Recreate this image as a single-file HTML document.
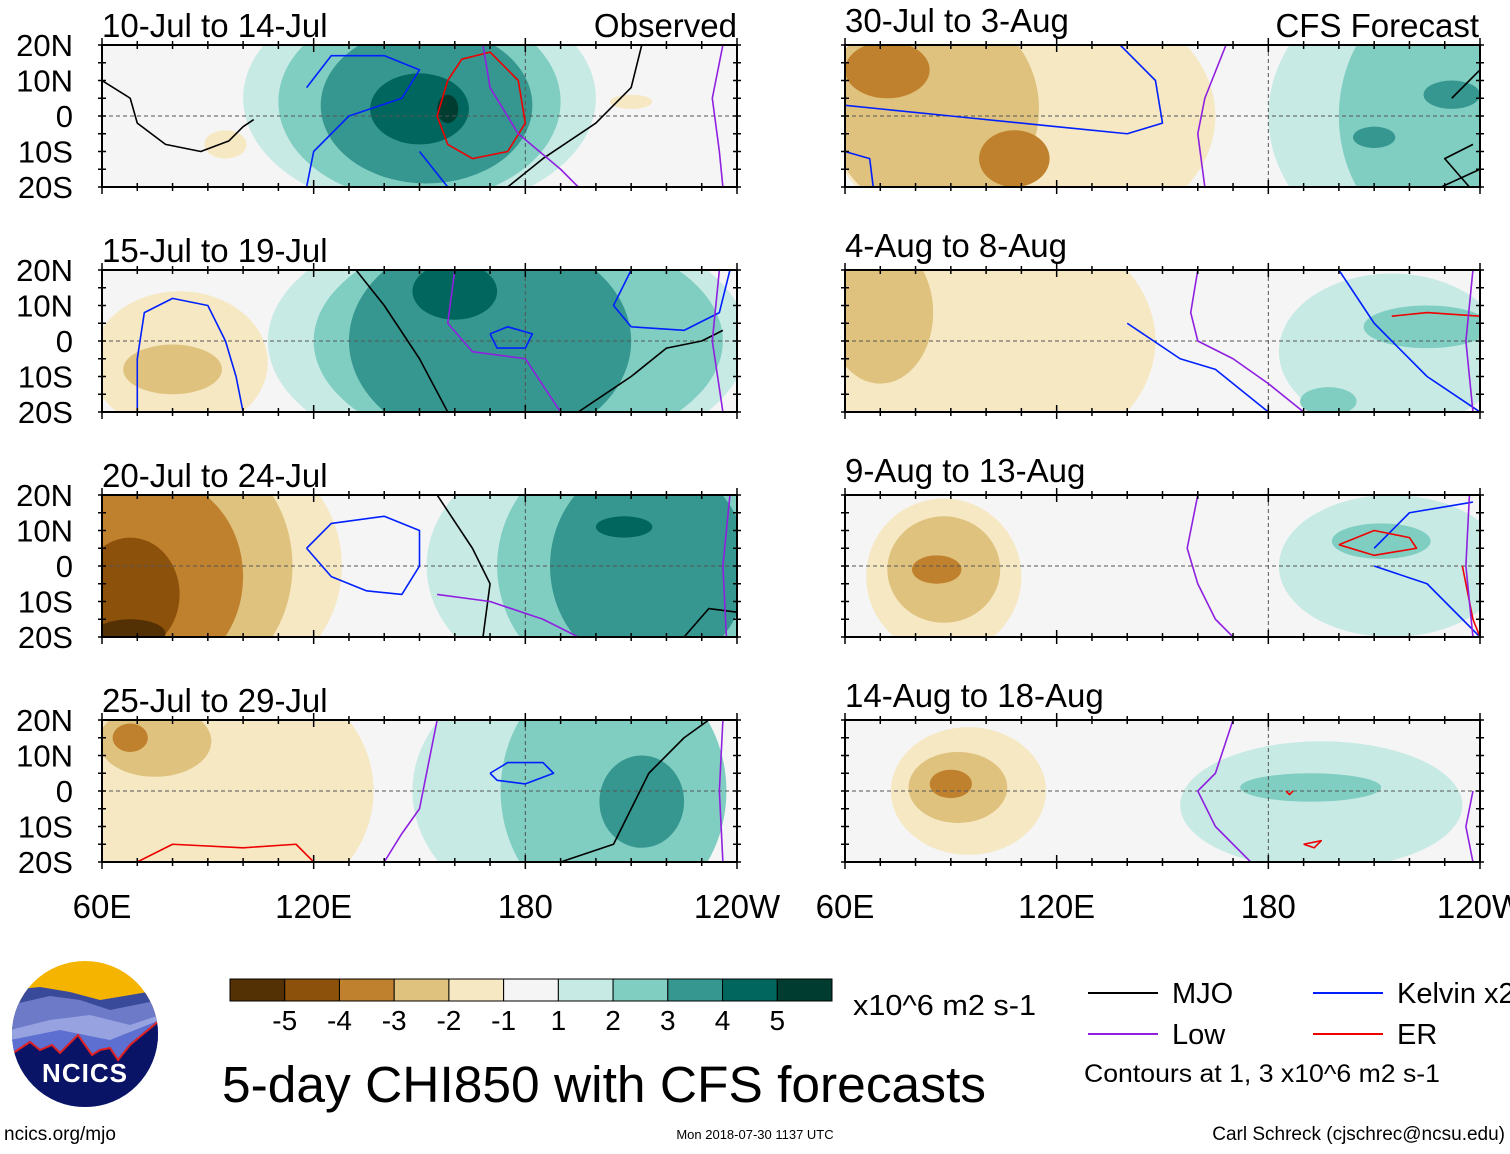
<!DOCTYPE html>
<html><head><meta charset="utf-8">
<style>
html,body{margin:0;padding:0;background:#fff;}
body{width:1510px;height:1149px;overflow:hidden;font-family:"Liberation Sans",Arial,sans-serif;}
svg text{font-family:"Liberation Sans",Arial,sans-serif;fill:#000;}
</style></head>
<body>
<svg id="chart" width="1510" height="1149" viewBox="0 0 1510 1149" xmlns="http://www.w3.org/2000/svg">
<g id="logo">
  <defs><clipPath id="logoclip"><circle cx="85" cy="1034" r="73"/></clipPath></defs>
  <g clip-path="url(#logoclip)">
    <rect x="10" y="960" width="150" height="150" fill="#f5b400"/>
    <path d="M10,990 L40,987 L70,992 L100,1000 L130,995 L160,990 L160,1110 L10,1110Z" fill="#3a4a9a"/>
    <path d="M10,1005 L50,996 L80,1000 L110,1010 L160,1000 L160,1110 L10,1110Z" fill="#6c7ac8"/>
    <path d="M10,1030 L50,1020 L90,1015 L130,1025 L160,1015 L160,1110 L10,1110Z" fill="#97a3e0"/>
    <path d="M10,1040 L60,1030 L110,1040 L160,1020 L160,1110 L10,1110Z" fill="#5d6fd0"/>
    <path d="M10,1055 L30,1042 L40,1050 L52,1045 L60,1053 L78,1035 L92,1055 L100,1050 L110,1048 L118,1060 L130,1045 L160,1020 L160,1110 L10,1110Z" fill="#0a1466" stroke="#e02020" stroke-width="2"/>
  </g>
  <text x="85" y="1082" text-anchor="middle" font-size="26" font-weight="bold" style="fill:#fff" letter-spacing="1">NCICS</text>
</g>
</svg>
<script>
const levelColors = ['#543005','#8c510a','#bf812d','#dfc27d','#f6e8c3','#f5f5f5','#c7eae5','#80cdc1','#35978f','#01665e','#003c30'];
const colorbarLabels = ['-5','-4','-3','-2','-1','1','2','3','4','5'];
const latTicks = ['20N','10N','0','10S','20S'];
const lonTicks = ['60E','120E','180','120W'];
const panelTitles = ['10-Jul to 14-Jul','15-Jul to 19-Jul','20-Jul to 24-Jul','25-Jul to 29-Jul','30-Jul to 3-Aug','4-Aug to 8-Aug','9-Aug to 13-Aug','14-Aug to 18-Aug'];
// blobs: [centerLon, centerLat, halfWidthLon, halfHeightLat, level]
const blobs0 = [[95,-8,6,4,-1],[210,4,6,2,-1],[150,5,50,32,1],[150,4,40,28,2],[152,3,30,22,3],[150,2,14,10,4],[158,2,3,4,5]];
const blobs1 = [[82,-6,25,20,-1],[80,-8,14,7,-2],[175,0,68,36,1],[178,0,58,32,2],[170,0,40,30,3],[160,14,12,8,4]];
const blobs2 = [[90,0,38,36,-1],[84,0,30,34,-2],[75,-3,25,28,-3],[68,-8,14,16,-4],[68,-19,10,4,-5],[200,0,48,36,1],[210,0,38,36,2],[215,0,28,30,3],[208,11,8,3,4]];
const blobs3 = [[95,0,42,36,-1],[75,14,16,10,-2],[68,15,5,4,-3],[192,0,44,36,1],[205,0,32,36,2],[213,-3,12,13,3]];
const blobs4 = [[110,0,55,38,-1],[85,2,30,30,-2],[72,13,12,8,-3],[108,-12,10,8,-3],[225,0,45,40,1],[230,0,30,36,2],[232,6,8,4,3],[210,-6,6,3,3]];
const blobs5 = [[100,0,48,36,-1],[70,8,15,20,-2],[215,-3,32,22,1],[225,4,18,6,2],[197,-17,8,4,2]];
const blobs6 = [[88,-3,22,22,-1],[88,-1,16,15,-2],[86,-1,7,4,-3],[215,0,32,20,1],[212,7,14,5,2]];
const blobs7 = [[95,0,22,18,-1],[92,1,14,10,-2],[90,2,6,4,-3],[195,-4,40,18,1],[192,1,20,4,2]];
const allBlobs = [blobs0,blobs1,blobs2,blobs3,blobs4,blobs5,blobs6,blobs7];
</script>
<script>
// contour lines: arrays of [lon,lat]
const contours0 = [
 ['#000',[[60,10],[68,5],[70,-2],[78,-8],[88,-10],[96,-7],[100,-3],[103,-1]]],
 ['#000',[[175,-20],[185,-12],[200,-2],[210,8],[213,20]]],
 ['#0020ff',[[118,8],[125,17],[140,17],[150,13],[145,5],[130,0],[120,-10],[118,-20]]],
 ['#0020ff',[[150,-10],[158,-20]]],
 ['#e00',[[158,10],[155,0],[158,-8],[165,-12],[175,-10],[180,-2],[178,10],[170,18],[162,16],[158,10]]],
 ['#9020e0',[[168,20],[170,8],[178,-5],[190,-15],[195,-20]]],
 ['#9020e0',[[236,20],[233,5],[235,-10],[236,-20]]]
];
const contours1 = [
 ['#000',[[132,20],[140,10],[150,-5],[158,-20]]],
 ['#000',[[195,-20],[210,-10],[220,-2],[230,0],[236,3]]],
 ['#0020ff',[[70,-20],[70,-5],[72,8],[80,12],[90,10],[95,0],[98,-10],[100,-20]]],
 ['#0020ff',[[210,20],[205,10],[210,4],[225,3],[235,8],[238,20]]],
 ['#0020ff',[[170,2],[172,-2],[180,-2],[182,2],[175,4],[170,2]]],
 ['#9020e0',[[160,20],[158,5],[165,-3],[180,-5],[190,-20]]],
 ['#9020e0',[[235,20],[233,0],[236,-20]]]
];
const contours2 = [
 ['#000',[[155,20],[165,5],[170,-5],[168,-20]]],
 ['#000',[[225,-20],[232,-12],[240,-13]]],
 ['#0020ff',[[118,5],[125,12],[140,14],[150,10],[150,0],[145,-8],[135,-7],[125,-3],[118,5]]],
 ['#9020e0',[[155,-8],[170,-10],[185,-15],[195,-20]]],
 ['#9020e0',[[238,20],[236,0],[237,-20]]]
];
const contours3 = [
 ['#0020ff',[[170,5],[175,8],[185,8],[188,5],[180,2],[172,3],[170,5]]],
 ['#000',[[190,-20],[205,-15],[210,-5],[215,5],[225,15],[232,20]]],
 ['#9020e0',[[155,20],[152,5],[150,-5],[145,-12],[140,-20]]],
 ['#9020e0',[[236,20],[235,0],[236,-20]]],
 ['#e00',[[70,-20],[80,-15],[100,-16],[115,-15],[120,-20]]]
];
const contours4 = [
 ['#0020ff',[[60,3],[90,0],[120,-3],[140,-5],[150,-2],[148,10],[138,20]]],
 ['#0020ff',[[60,-10],[67,-12],[68,-20]]],
 ['#9020e0',[[168,20],[162,5],[160,-5],[162,-20]]],
 ['#000',[[237,-20],[230,-12],[238,-8]]],
 ['#000',[[229,-20],[240,-15]]],
 ['#000',[[232,5],[240,13]]]
];
const contours5 = [
 ['#0020ff',[[140,5],[155,-5],[165,-8],[180,-20]]],
 ['#0020ff',[[200,20],[210,5],[225,-10],[240,-20]]],
 ['#e00',[[215,7],[225,8],[240,7]]],
 ['#9020e0',[[160,20],[158,8],[160,0],[170,-5],[180,-12],[190,-20]]],
 ['#9020e0',[[238,20],[236,0],[238,-20]]]
];
const contours6 = [
 ['#0020ff',[[210,5],[220,15],[238,18]]],
 ['#0020ff',[[210,0],[225,-5],[235,-15],[240,-20]]],
 ['#e00',[[200,6],[210,10],[220,8],[222,5],[210,3],[200,6]]],
 ['#e00',[[235,0],[238,-15],[240,-20]]],
 ['#9020e0',[[160,20],[157,5],[160,-5],[165,-15],[170,-20]]],
 ['#9020e0',[[237,20],[236,0],[238,-20]]]
];
const contours7 = [
 ['#9020e0',[[170,20],[165,5],[160,0],[165,-10],[175,-20]]],
 ['#9020e0',[[238,0],[236,-10],[238,-20]]],
 ['#e00',[[185,0],[186,-1],[187,0]]],
 ['#e00',[[190,-15],[195,-14],[193,-16],[190,-15]]]
];
const allContours = [contours0,contours1,contours2,contours3,contours4,contours5,contours6,contours7];
</script>
<script>
const NS='http://www.w3.org/2000/svg';
const svg=document.getElementById('chart');
function mk(tag,attrs,parent){const e=document.createElementNS(NS,tag);for(const k in attrs)e.setAttribute(k,attrs[k]);(parent||svg).appendChild(e);return e;}
const PW=635, PH=142;
const panelX=[102,102,102,102,845,845,845,845];
const panelY=[45,270,495,720,45,270,495,720];
const titleY=[37,262,487,712,32,257,482,707];
for(let p=0;p<8;p++){
  const x0=panelX[p], y0=panelY[p];
  const X=lon=>x0+(lon-60)*PW/180;
  const Y=lat=>y0+(20-lat)*PH/40;
  const g=mk('g',{});
  
  
  const cp=mk('clipPath',{id:'cp'+p},g);
  mk('rect',{x:x0,y:y0,width:PW,height:PH},cp);
  const inner=mk('g',{'clip-path':'url(#cp'+p+')'},g);
  mk('rect',{x:x0,y:y0,width:PW,height:PH,fill:'#f5f5f5'},inner);
  const bl=allBlobs[p].slice().sort((a,b)=>Math.abs(a[4])-Math.abs(b[4]));
  bl.forEach(b=>{
    const e=mk('ellipse',{cx:X(b[0]),cy:Y(b[1]),rx:b[2]*PW/180,ry:b[3]*PH/40,fill:levelColors[5+b[4]]},inner);
    
    
  });
  mk('line',{x1:X(180),x2:X(180),y1:y0,y2:y0+PH,stroke:'#555','stroke-dasharray':'4,3','stroke-width':1},inner);
  mk('line',{x1:x0,x2:x0+PW,y1:Y(0),y2:Y(0),stroke:'#555','stroke-dasharray':'4,3','stroke-width':1},inner);
  allContours[p].forEach(c=>{
    const pl=mk('polyline',{points:c[1].map(q=>X(q[0])+','+Y(q[1])).join(' '),fill:'none',stroke:c[0],'stroke-width':1.6,'stroke-linejoin':'round'},inner);
    
    
  });
  mk('rect',{x:x0,y:y0,width:PW,height:PH,fill:'none',stroke:'#000','stroke-width':2},g);
  for(let lon=60;lon<=240;lon+=10){
    const len=(lon%60===0)?7:4;
    mk('line',{x1:X(lon),x2:X(lon),y1:y0-len,y2:y0+len,stroke:'#000','stroke-width':1.5},g);
    mk('line',{x1:X(lon),x2:X(lon),y1:y0+PH-len,y2:y0+PH+len,stroke:'#000','stroke-width':1.5},g);
  }
  for(let lat=-20;lat<=20;lat+=5){
    mk('line',{x1:x0-4,x2:x0+4,y1:Y(lat),y2:Y(lat),stroke:'#000','stroke-width':1.5},g);
    mk('line',{x1:x0+PW-4,x2:x0+PW+4,y1:Y(lat),y2:Y(lat),stroke:'#000','stroke-width':1.5},g);
  }
  const t=mk('text',{x:x0,y:titleY[p],'font-size':33},g);t.textContent=panelTitles[p];
  
  if(p<4){
    latTicks.forEach((s,i)=>{const tt=mk('text',{x:73,y:y0+i*PH/4+11,'font-size':31,'text-anchor':'end'},g);tt.textContent=s;
      });
  }
}
function txt(x,y,s,size,name,anchor,len){const a={x:x,y:y,'font-size':size,'text-anchor':anchor||'start'};
  if(len){a.textLength=len;a.lengthAdjust='spacingAndGlyphs';}
  const t=mk('text',a);t.textContent=s;
  return t;}
txt(737,37,'Observed',33,'observed-label','end');
txt(1479,37,'CFS Forecast',33,'forecast-label','end');
[102,845].forEach(x0=>{lonTicks.forEach((s,i)=>{const t=mk('text',{x:x0+i*PW/3,y:918,'font-size':33,'text-anchor':'middle'});t.textContent=s;
  });});
const cbx=230, cbw=602/11;
levelColors.forEach((c,i)=>{const r=mk('rect',{x:cbx+i*cbw,y:979,width:cbw,height:22,fill:c,stroke:'#000','stroke-width':1});
  });
colorbarLabels.forEach((s,i)=>{const t=mk('text',{x:cbx+(i+1)*cbw,y:1030,'font-size':28,'text-anchor':'middle'});t.textContent=s;
  });
txt(853,1015,'x10^6 m2 s-1',29,'colorbar-units','start',183);
txt(222,1102,'5-day CHI850 with CFS forecasts',51,'chart-title','start',764);
const leg=[[1088,993,'#000','MJO'],[1313,993,'#0020ff','Kelvin x2'],[1088,1034,'#9020e0','Low'],[1313,1034,'#e00','ER']];
leg.forEach(l=>{const ln=mk('line',{x1:l[0],x2:l[0]+70,y1:l[1],y2:l[1],stroke:l[2],'stroke-width':2});
  
  txt(l[0]+84,l[1]+10,l[3],29,'legend-entry');});
txt(1084,1082,'Contours at 1, 3 x10^6 m2 s-1',25,'contour-note','start',356);
txt(4,1140,'ncics.org/mjo',19,'source-url');
txt(755,1139,'Mon 2018-07-30 1137 UTC',13,'timestamp','middle');
txt(1505,1140,'Carl Schreck (cjschrec@ncsu.edu)',19,'author-credit','end');
</script>
</body></html>
